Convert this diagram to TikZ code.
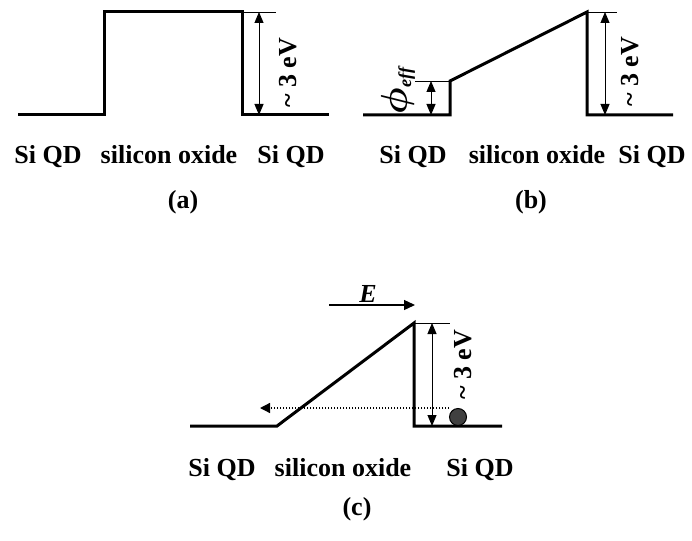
\documentclass[tikz,border=0pt]{standalone}
\usepackage{bm}
\usepackage{fontspec}
\setmainfont{Liberation Serif}
\usetikzlibrary{arrows.meta}
\definecolor{ballgrey}{RGB}{64,64,64}
\newcommand{\tld}{\textasciitilde{}}

\begin{document}
\begin{tikzpicture}[
  x=1pt, y=-1pt,
  font=\fontsize{26}{30}\selectfont\bfseries,
  band/.style={line width=3pt, line join=miter},
  ext/.style={line width=0.8pt},
  dim/.style={{Triangle[length=11pt,width=9pt]}-{Triangle[length=11pt,width=9pt]}, line width=1pt},
  field/.style={-{Triangle[length=11pt,width=10pt]}, line width=1.3pt},
  tunnel/.style={-{Triangle[length=10pt,width=10pt]}, line width=1.3pt, dash pattern=on 1.5pt off 1.5pt},
  lbl/.style={anchor=base, inner sep=0pt},
  ev/.style={rotate=90, inner sep=0pt}
]
\useasboundingbox (0,0) rectangle (692,540);
% ---- (a) flat barrier -------------------------------------------------------
\coordinate (a1) at (18,115);
\coordinate (a2) at (104,115);
\coordinate (a3) at (104,12);
\coordinate (a4) at (242,12);
\coordinate (a5) at (242,115);
\coordinate (a6) at (329,115);
\coordinate (aext) at (276,12);
\coordinate (atop) at (259,12);
\coordinate (abot) at (259,115);
\draw[band] (a1) -- (a2) -- (a3) -- (a4) -- (a5) -- (a6);
\draw[ext] (a4) -- (aext);
\draw[dim] (atop) -- (abot);
\node[ev] (aev) at (288,73) {\tld\ 3 eV};
\node[lbl] (aqdl) at (48,164) {Si QD};
\node[lbl] (aox) at (169,164) {silicon oxide};
\node[lbl] (aqdr) at (291,164) {Si QD};
\node[lbl] (acap) at (183,208) {(a)};

% ---- (b) lowered barrier ----------------------------------------------------
\coordinate (b1) at (363,115);
\coordinate (b2) at (450,115);
\coordinate (b3) at (450,81);
\coordinate (b4) at (587,12);
\coordinate (b5) at (587,115);
\coordinate (b6) at (673,115);
\coordinate (bext) at (617,12);
\coordinate (btop) at (605,12);
\coordinate (bbot) at (605,115);
\coordinate (pext) at (415,81);
\coordinate (ptop) at (431,81);
\coordinate (pbot) at (431,115);
\draw[band] (b1) -- (b2) -- (b3) -- (b4) -- (b5) -- (b6);
\draw[ext] (b4) -- (bext);
\draw[ext] (pext) -- (b3);
\draw[dim] (btop) -- (bbot);
\draw[dim] (ptop) -- (pbot);
\node[ev] (bev) at (630,72) {\tld\ 3 eV};
\node[ev] (phi) at (398,90) {\scalebox{1.5}{$\bm{\phi}$}\textsubscript{\textit{eff}}};
\node[lbl] (bqdl) at (413,164) {Si QD};
\node[lbl] (box) at (537,164) {silicon oxide};
\node[lbl] (bqdr) at (652,164) {Si QD};
\node[lbl] (bcap) at (531,208) {(b)};

% ---- (c) tunnelling under field ---------------------------------------------
\coordinate (c1) at (190,426);
\coordinate (c2) at (277,426);
\coordinate (c3) at (414,323);
\coordinate (c4) at (414,426);
\coordinate (c5) at (502,426);
\coordinate (cext) at (450,323);
\coordinate (ctop) at (432,323);
\coordinate (cbot) at (432,426);
\coordinate (Es) at (329,305);
\coordinate (Ee) at (415,305);
\coordinate (tun) at (260,408);
\draw[band] (c1) -- (c2) -- (c3) -- (c4) -- (c5);
\draw[ext] (c3) -- (cext);
\draw[dim] (ctop) -- (cbot);
\draw[field] (Es) -- (Ee);
\node (Elbl) at (368,294) {\textit{E}};
\node[circle, draw, line width=1pt, fill=ballgrey, minimum size=17pt, inner sep=0pt] (el) at (458,417) {};
\draw[tunnel] (el.west |- tun) -- (tun);
\node[ev] (cev) at (463,365) {\tld\ 3 eV};
\node[lbl] (cqdl) at (222,476) {Si QD};
\node[lbl] (cox) at (343,476) {silicon oxide};
\node[lbl] (cqdr) at (480,476) {Si QD};
\node[lbl] (ccap) at (357,515) {(c)};
\end{tikzpicture}
\end{document}
